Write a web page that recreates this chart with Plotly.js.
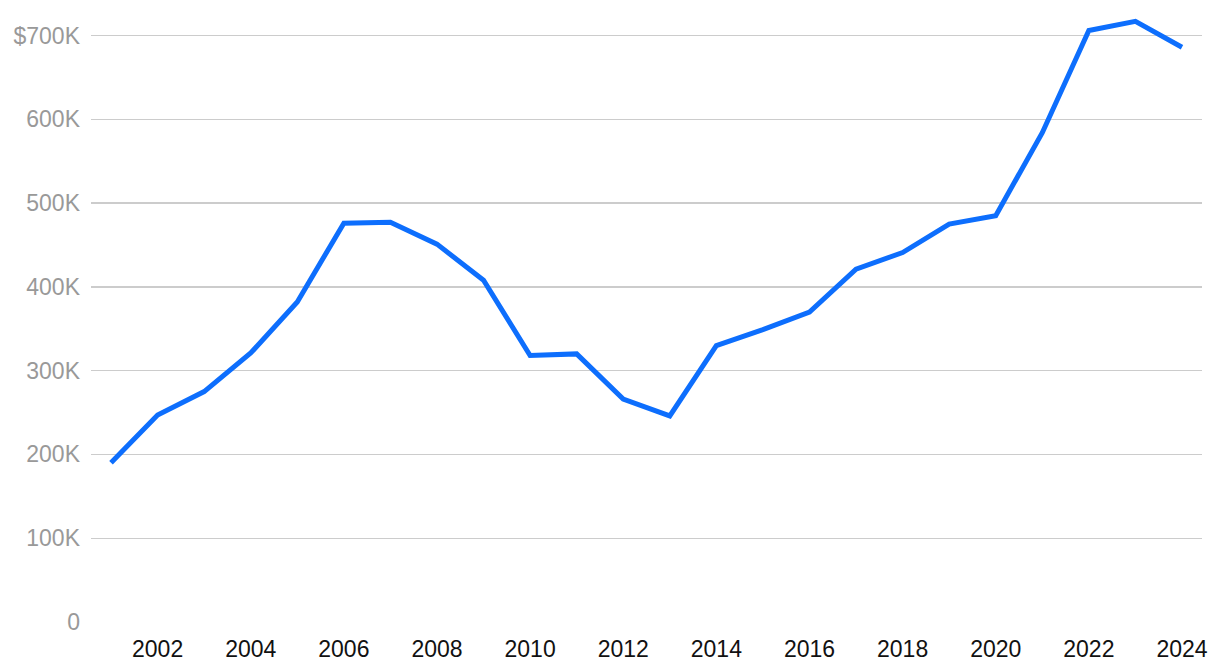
<!DOCTYPE html>
<html>
<head>
<meta charset="utf-8">
<script src="https://cdn.plot.ly/plotly-3.0.1.min.js"></script>
<style>html,body{margin:0;padding:0;background:#fff;}#chart{width:1220px;height:668px;}</style>
</head>
<body>
<div id="chart"></div>
<script>
const years = [2001,2002,2003,2004,2005,2006,2007,2008,2009,2010,2011,2012,2013,2014,2015,2016,2017,2018,2019,2020,2021,2022,2023,2024];
const values = [190000,247000,275000,321000,382000,476000,477000,451000,408000,318000,320000,266000,246000,330000,349000,370000,421000,441000,475000,485000,584000,706000,717000,686000];
const yTickVals = [0,100000,200000,300000,400000,500000,600000,700000];
const yTickText = ["0","100K","200K","300K","400K","500K","600K","$700K"];
const xTickVals = [2002,2004,2006,2008,2010,2012,2014,2016,2018,2020,2022,2024];
const xTickText = xTickVals.map(String);

const trace = {
  x: years, y: values, type: 'scatter', mode: 'lines',
  line: {color: '#0d6efd', width: 5, shape: 'linear'},
  hoverinfo: 'x+y'
};
const layout = {
  width: 1220, height: 668,
  margin: {l: 91, r: 18, t: 2, b: 46},
  paper_bgcolor: '#fff', plot_bgcolor: '#fff',
  showlegend: false,
  font: {family: 'Liberation Sans, Arial, Helvetica, sans-serif'},
  xaxis: {
    range: [2000.57, 2024.43],
    tickvals: xTickVals, ticktext: xTickText,
    showgrid: false, zeroline: false, showline: false, ticks: '',
    ticklabelstandoff: 11,
    tickfont: {size: 23, color: '#111'}
  },
  yaxis: {
    range: [0, 740000],
    tickvals: yTickVals, ticktext: yTickText,
    showgrid: true, gridcolor: '#cccccc', gridwidth: 1.3,
    zeroline: false, showline: false, ticks: '',
    ticklabelstandoff: 10,
    tickfont: {size: 23, color: '#999'}
  }
};
Plotly.newPlot('chart', [trace], layout, {displayModeBar: false, staticPlot: true});
</script>
</body>
</html>
